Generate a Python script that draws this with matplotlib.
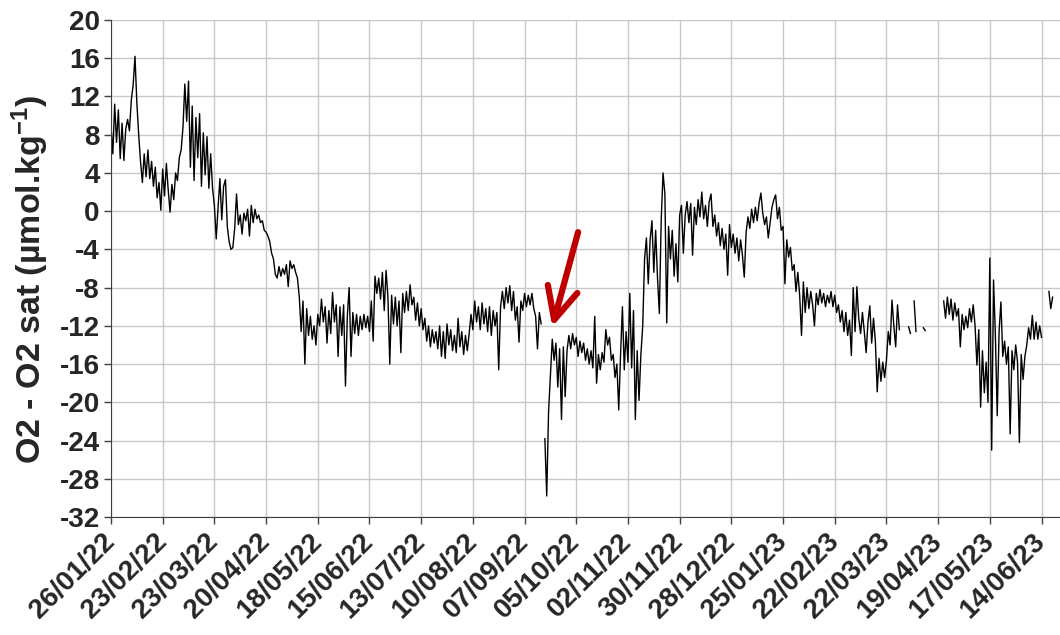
#!/usr/bin/python3

import numpy as np
import pandas as pd
import matplotlib
matplotlib.use('Agg')
import matplotlib.pyplot as plt

nan = np.nan

# daily O2 - O2 sat readings (umol/kg) starting on the first day below
first_day = '26/01/22'

o2_minus_sat = [
	9.0, 6.0, 11.2, 7.2, 10.6, 5.5, 9.2, 5.3, 8.6, 9.6,
	8.4, 11.6, 13.2, 16.2, 11.4, 8.0, 5.2, 3.0, 6.0, 3.6,
	6.4, 3.4, 5.2, 2.6, 4.6, 1.4, 3.0, 0.1, 4.4, 1.6,
	5.0, 2.2, -0.1, 2.8, 1.2, 4.0, 3.2, 5.6, 6.4, 8.8,
	13.3, 9.4, 13.6, 4.6, 11.0, 3.2, 9.8, 5.6, 10.2, 2.6,
	8.2, 3.8, 7.8, 2.4, 6.0, 2.4, 0.6, -2.9, 0.4, 3.4,
	-0.9, 2.6, 3.3, -1.6, -3.2, -4.0, -3.8, -1.8, 1.8, -1.4,
	-0.4, -2.4, -0.2, -1.0, 0.2, -2.6, 0.6, -1.2, 0.2, -0.8,
	-0.4, -1.2, -1.0, -2.0, -2.2, -2.6, -3.2, -4.4, -5.0, -6.6,
	-7.0, -5.8, -6.8, -6.0, -6.6, -5.6, -7.9, -5.2, -6.0, -5.6,
	-6.4, -7.0, -9.0, -12.6, -9.4, -16.0, -10.2, -13.0, -11.0, -13.4,
	-12.0, -14.0, -10.8, -12.0, -9.2, -11.6, -10.0, -13.8, -10.4, -12.8,
	-8.5, -11.6, -9.8, -15.2, -10.0, -13.0, -9.8, -18.3, -11.0, -8.0,
	-15.2, -10.6, -12.8, -10.8, -13.0, -11.0, -12.4, -10.8, -12.2, -11.0,
	-12.6, -9.4, -13.6, -6.8, -8.6, -7.0, -9.2, -6.4, -10.4, -6.2,
	-9.0, -16.0, -8.8, -11.8, -9.0, -12.0, -9.4, -14.8, -8.6, -10.6,
	-8.4, -10.4, -7.7, -9.8, -9.0, -11.4, -9.6, -12.0, -10.2, -12.4,
	-11.2, -13.6, -12.0, -14.2, -12.4, -13.8, -12.6, -14.4, -12.0, -15.2,
	-12.6, -15.4, -11.8, -14.0, -12.4, -14.6, -13.0, -14.8, -11.2, -14.2,
	-12.6, -15.0, -13.0, -14.6, -12.8, -10.8, -12.4, -9.4, -11.6, -10.0,
	-12.4, -9.6, -11.8, -10.2, -12.6, -10.0, -13.0, -10.4, -12.0, -10.6,
	-16.6, -10.0, -8.4, -10.2, -8.0, -9.6, -7.8, -10.4, -8.4, -11.4,
	-10.0, -13.7, -9.4, -10.4, -8.6, -10.0, -8.8, -9.8, -8.6, -10.2,
	-11.0, -14.4, -10.6, -11.8, nan, -23.8, -29.8, -21.0, -17.2, -13.4,
	-15.6, -13.8, -18.4, -14.4, -21.8, -14.2, -19.4, -14.6, -13.0, -14.4,
	-12.8, -14.0, -13.2, -15.2, -13.6, -14.8, -13.8, -15.6, -14.4, -16.0,
	-14.6, -16.4, -11.0, -18.0, -15.0, -16.6, -14.8, -15.8, -12.4, -14.0,
	-13.2, -15.6, -15.0, -17.4, -16.0, -20.8, -15.0, -10.0, -16.6, -12.6,
	-15.8, -8.6, -16.4, -10.4, -21.8, -14.6, -19.8, -15.0, -12.0, -5.0,
	-2.8, -7.6, -3.0, -1.0, -6.4, -2.0, -7.0, -10.7, -1.0, 4.0,
	1.8, -11.7, -1.6, -5.0, -2.0, -6.8, -3.4, -7.4, -0.4, 0.6,
	-4.4, -0.4, 1.0, -1.2, 0.8, -4.6, 0.4, -1.4, 1.2, -0.6,
	2.0, -0.8, 0.6, -1.6, 1.0, 1.8, -1.6, -0.4, -2.6, -1.2,
	-3.6, -1.8, -4.0, -2.4, -6.7, -1.4, -3.8, -2.4, -4.4, -2.8,
	-5.2, -3.0, -4.6, -6.9, -2.2, -0.6, -1.8, 0.2, -1.2, 0.4,
	-1.0, 0.8, 1.9, -0.2, -1.4, -0.6, -2.8, -1.2, 0.4, 1.2,
	1.7, -0.8, 0.4, -2.0, -1.6, -7.6, -3.0, -4.8, -3.8, -6.2,
	-5.6, -8.4, -6.4, -8.8, -13.0, -7.4, -10.6, -8.0, -10.2, -8.4,
	-9.8, -12.0, -8.6, -9.8, -8.2, -9.6, -8.6, -10.0, -8.8, -9.6,
	-8.4, -10.0, -8.8, -10.6, -9.8, -11.6, -10.4, -12.6, -10.6, -13.0,
	-11.4, -15.1, -8.0, -12.6, -7.9, -11.2, -12.8, -10.6, -12.6, -14.8,
	-11.6, -9.9, -13.8, -11.2, -13.6, -18.9, -15.4, -17.8, -15.8, -17.4,
	-15.6, -12.6, -14.0, -9.3, -12.0, -14.2, -9.8, -12.4, nan, nan,
	nan, nan, -12.1, -12.8, nan, -9.4, -12.6, nan, nan, nan,
	-12.2, -12.5, nan, nan, nan, nan, nan, nan, nan, nan,
	nan, -9.4, -11.2, -9.0, -10.8, -9.2, -11.4, -9.6, -11.0, -10.2,
	-14.2, -10.8, -12.4, -11.0, -12.2, -10.2, -11.6, -9.8, -12.0, -16.1,
	-12.4, -20.5, -14.6, -19.0, -15.8, -20.0, -4.9, -25.0, -7.2, -13.0,
	-21.4, -12.6, -9.5, -15.2, -13.6, -16.0, -14.2, -23.3, -14.6, -16.6,
	-14.0, -15.8, -24.2, -15.0, -17.6, -15.2, -14.0, -12.2, -13.4, -10.9,
	-13.4, -11.6, -13.4, -12.0, -13.2, nan, nan, nan, -8.4, -10.2,
	-9.0,
]

tick_dates = [
	'26/01/22', '23/02/22', '23/03/22', '20/04/22', '18/05/22',
	'15/06/22', '13/07/22', '10/08/22', '07/09/22', '05/10/22',
	'02/11/22', '30/11/22', '28/12/22', '25/01/23', '22/02/23',
	'22/03/23', '19/04/23', '17/05/23', '14/06/23',
]

y_ticks = list(range(-32, 21, 4))

# arrow pointing at the drop in early October 2022
arrow_tail = ('2022-10-06', -2.2)
arrow_head = ('2022-09-22', -12.1)


def main():
	''' Build the daily series and draw it'''

	dates = pd.date_range(pd.to_datetime(first_day, format='%d/%m/%y'),
		periods=len(o2_minus_sat), freq='D')
	df = pd.DataFrame({'O2 - O2 sat': o2_minus_sat}, index=dates)

	plot_series(df)

	return


def plot_series(df):
	''' Time series of O2 minus saturation with the October arrow'''

	plt.rcParams['font.family'] = ['Liberation Sans', 'DejaVu Sans']
	plt.rcParams['font.weight'] = 'bold'
	plt.rcParams['mathtext.fontset'] = 'custom'
	plt.rcParams['mathtext.rm'] = 'Liberation Sans:bold'
	plt.rcParams['mathtext.bf'] = 'Liberation Sans:bold'
	plt.rcParams['mathtext.default'] = 'bf'

	text_color = '#262626'

	fig = plt.figure(figsize=(10.6, 6.35), dpi=100)
	ax = fig.add_axes([0.1047, 0.1858, 0.8953, 0.7827])

	ax.plot(df.index, df['O2 - O2 sat'], color='black', linewidth=1.0)

	ticks = pd.to_datetime(tick_dates, format='%d/%m/%y')
	ax.set_xticks(ticks)
	ax.set_xticklabels(tick_dates, rotation=45, ha='right', va='center',
		rotation_mode='anchor', fontsize=20, fontweight='bold', color=text_color)
	ax.set_xlim(ticks[0], ticks[0] + pd.Timedelta(days=514))

	ax.set_yticks(y_ticks)
	ax.set_yticklabels([str(v) for v in y_ticks], fontsize=20,
		fontweight='bold', color=text_color)
	ax.set_ylim(-32, 20)

	ax.set_ylabel('O2 - O2 sat (µmol.kg$^{-1}$)', fontsize=24.5,
		fontweight='bold', color=text_color)
	ax.yaxis.set_label_coords(-0.063, 0.478)

	ax.grid(True, color='#c8c8c8', linewidth=1.0)
	ax.set_axisbelow(True)
	ax.spines['top'].set_visible(False)
	ax.spines['right'].set_visible(False)
	ax.spines['left'].set_color('#404040')
	ax.spines['bottom'].set_color('#404040')
	ax.tick_params(axis='both', length=5, width=1, color='#404040', pad=3)
	ax.tick_params(axis='x', pad=10)

	ax.annotate('', xy=(pd.Timestamp(arrow_head[0]), arrow_head[1]),
		xytext=(pd.Timestamp(arrow_tail[0]), arrow_tail[1]),
		arrowprops=dict(arrowstyle='->, head_length=1.15, head_width=0.55',
			mutation_scale=20, color='#c00000', linewidth=4.5,
			shrinkA=0, shrinkB=0))

	plt.savefig('out.png', dpi=100)
	plt.close()

	return


if __name__ == '__main__':
	main()
